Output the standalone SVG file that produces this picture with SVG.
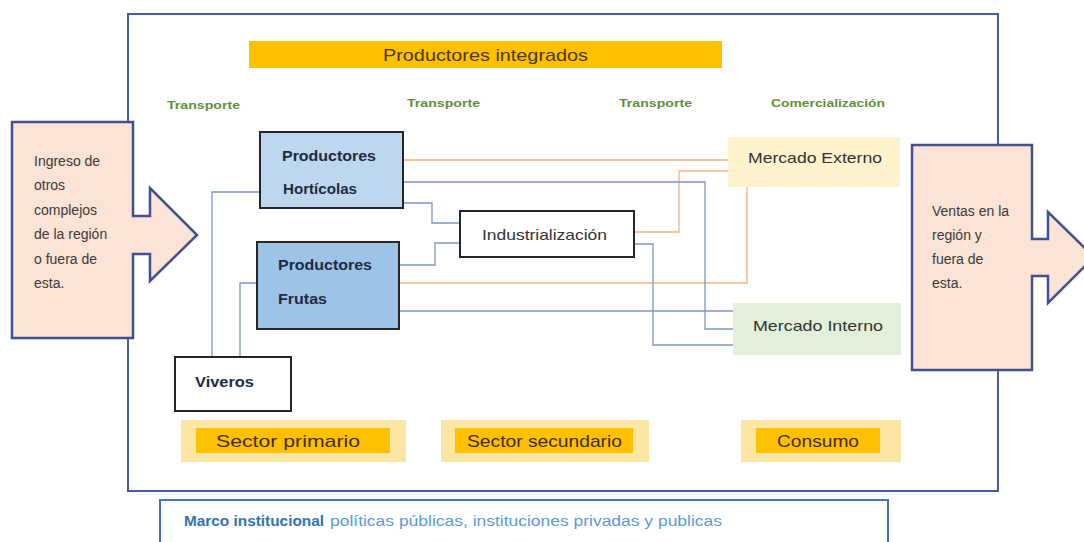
<svg xmlns="http://www.w3.org/2000/svg" width="1084" height="542" viewBox="0 0 1084 542">
<style>
  text { font-family: "Liberation Sans", Arial, sans-serif; }
  .frame { fill: #ffffff; stroke: #4a5c9e; stroke-width: 2; }
  .arrow { fill: #fbe3d6; stroke: #3f5191; stroke-width: 2.5; stroke-linejoin: miter; }
  .arrowtxt { font-size: 14px; fill: #3a3a3a; }
  .trans { font-size: 10.5px; font-weight: bold; fill: #5f8f3a; }
  .orange { fill: none; stroke: #f4b183; stroke-width: 1.3; }
  .blue { fill: none; stroke: #7f95c6; stroke-width: 1.3; }
  .node { stroke: #262626; stroke-width: 2; }
  .bold { font-size: 15px; font-weight: bold; fill: #1f2a44; }
  .reg { font-size: 15px; fill: #333333; }
  .sectorOuter { fill: #fce6a4; }
  .sectorInner { fill: #ffc000; }
  .sectorTxt { font-size: 17px; fill: #3d2e00; }
</style>

<g id="frame">
  <rect class="frame" x="128" y="14" width="870" height="477"/>
</g>

<g id="productores-integrados">
  <rect x="249" y="41" width="473" height="27" fill="#ffc000"/>
  <text x="383" y="61" font-size="17" fill="#4a3a00" textLength="205" lengthAdjust="spacingAndGlyphs">Productores integrados</text>
</g>

<g id="labels">
  <text class="trans" x="167" y="109" textLength="73" lengthAdjust="spacingAndGlyphs">Transporte</text>
  <text class="trans" x="407" y="107" textLength="73" lengthAdjust="spacingAndGlyphs">Transporte</text>
  <text class="trans" x="619" y="107" textLength="73" lengthAdjust="spacingAndGlyphs">Transporte</text>
  <text class="trans" x="771" y="107" textLength="114" lengthAdjust="spacingAndGlyphs">Comercialización</text>
</g>

<g id="connectors">
  <path class="orange" d="M403 160 H728"/>
  <path class="orange" d="M399 283 H747 V186"/>
  <path class="orange" d="M634 232 H679 V171 H728"/>
  <path class="blue" d="M403 182 H705 V329 H733"/>
  <path class="blue" d="M403 203 H432 V223 H460"/>
  <path class="blue" d="M399 265 H435 V243 H460"/>
  <path class="blue" d="M399 311 H733"/>
  <path class="blue" d="M634 244 H653 V345 H733"/>
  <path class="blue" d="M259 192 H212 V357"/>
  <path class="blue" d="M257 283 H240 V357"/>
</g>

<g id="ingreso">
  <polygon class="arrow" points="12,122 133,122 133,216 150,216 150,188 197,235 150,281 150,254 133,254 133,338 12,338"/>
  <text class="arrowtxt" x="34" y="166">Ingreso de</text>
  <text class="arrowtxt" x="34" y="190">otros</text>
  <text class="arrowtxt" x="34" y="215">complejos</text>
  <text class="arrowtxt" x="34" y="239">de la región</text>
  <text class="arrowtxt" x="34" y="264">o fuera de</text>
  <text class="arrowtxt" x="34" y="288">esta.</text>
</g>

<g id="ventas">
  <polygon class="arrow" points="912,145 1032,145 1032,239 1048,239 1048,212 1094,257 1048,303 1048,276 1032,276 1032,370 912,370"/>
  <text class="arrowtxt" x="932" y="216">Ventas en la</text>
  <text class="arrowtxt" x="932" y="240">región y</text>
  <text class="arrowtxt" x="932" y="264">fuera de</text>
  <text class="arrowtxt" x="932" y="288">esta.</text>
</g>

<g id="productores-horticolas">
  <rect class="node" x="260" y="132" width="143" height="76" fill="#bdd7ee"/>
  <text class="bold" x="282" y="161" textLength="94" lengthAdjust="spacingAndGlyphs">Productores</text>
  <text class="bold" x="283" y="194" textLength="74" lengthAdjust="spacingAndGlyphs">Hortícolas</text>
</g>

<g id="productores-frutas">
  <rect class="node" x="257" y="242" width="142" height="87" fill="#9dc3e6"/>
  <text class="bold" x="278" y="270" textLength="94" lengthAdjust="spacingAndGlyphs">Productores</text>
  <text class="bold" x="278" y="304" textLength="49" lengthAdjust="spacingAndGlyphs">Frutas</text>
</g>

<g id="viveros">
  <rect class="node" x="175" y="357" width="116" height="54" fill="#ffffff"/>
  <text class="bold" x="195" y="387" textLength="59" lengthAdjust="spacingAndGlyphs">Viveros</text>
</g>

<g id="industrializacion">
  <rect class="node" x="460" y="211" width="174" height="46" fill="#ffffff"/>
  <text class="reg" x="482" y="240" textLength="125" lengthAdjust="spacingAndGlyphs">Industrialización</text>
</g>

<g id="mercado-externo">
  <rect x="728" y="137" width="172" height="50" fill="#fff2cc"/>
  <text class="reg" x="748" y="163" textLength="134" lengthAdjust="spacingAndGlyphs">Mercado Externo</text>
</g>

<g id="mercado-interno">
  <rect x="733" y="303" width="168" height="52" fill="#e2efd9"/>
  <text class="reg" x="753" y="331" textLength="130" lengthAdjust="spacingAndGlyphs">Mercado Interno</text>
</g>

<g id="sector-primario">
  <rect class="sectorOuter" x="181" y="420" width="225" height="42"/>
  <rect class="sectorInner" x="196" y="428" width="194" height="25"/>
  <text class="sectorTxt" x="216" y="447" textLength="144" lengthAdjust="spacingAndGlyphs">Sector primario</text>
</g>

<g id="sector-secundario">
  <rect class="sectorOuter" x="441" y="420" width="208" height="42"/>
  <rect class="sectorInner" x="455" y="428" width="178" height="25"/>
  <text class="sectorTxt" x="467" y="447" textLength="155" lengthAdjust="spacingAndGlyphs">Sector secundario</text>
</g>

<g id="consumo">
  <rect class="sectorOuter" x="741" y="420" width="160" height="42"/>
  <rect class="sectorInner" x="756" y="428" width="124" height="25"/>
  <text class="sectorTxt" x="777" y="447" textLength="82" lengthAdjust="spacingAndGlyphs">Consumo</text>
</g>

<g id="marco-institucional">
  <rect x="160" y="500" width="728" height="48" fill="#ffffff" stroke="#4472c4" stroke-width="2"/>
  <text x="184" y="526" font-size="14.5" font-weight="bold" fill="#2e75b6" textLength="140" lengthAdjust="spacingAndGlyphs">Marco institucional</text>
  <text x="330" y="526" font-size="14.5" fill="#5b9bd5" textLength="392" lengthAdjust="spacingAndGlyphs">políticas públicas, instituciones privadas y publicas</text>
</g>
</svg>
